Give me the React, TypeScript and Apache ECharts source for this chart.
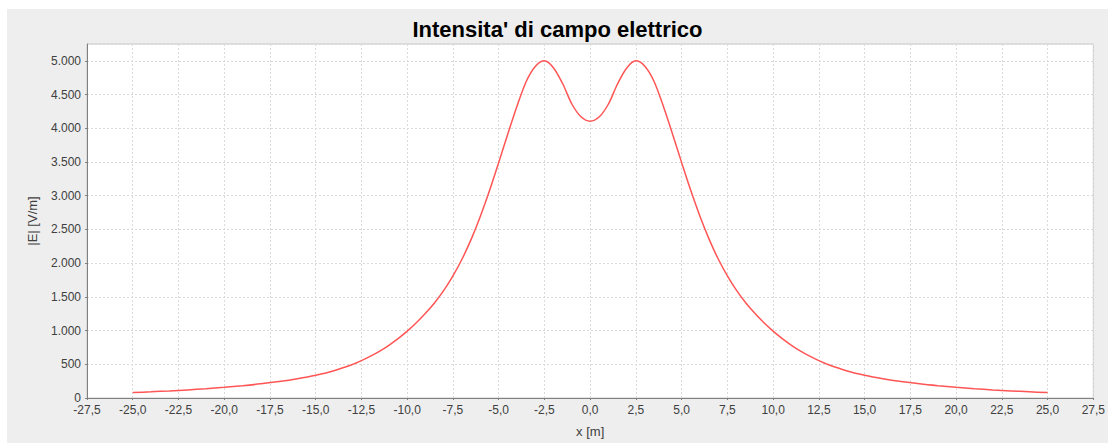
import React, { useEffect, useRef } from "react";
import * as echarts from "echarts";

const xValues = [
  -25, -24, -23, -22, -21, -20, -19, -18, -17, -16, -15, -14, -13, -12.5, -12, -11.5, -11, -10.5,
  -10, -9.5, -9, -8.5, -8, -7.5, -7, -6.5, -6, -5.5, -5, -4.5, -4, -3.5, -3, -2.5, -2, -1.5, -1, -0.5,
  0,
  0.5, 1, 1.5, 2, 2.5, 3, 3.5, 4, 4.5, 5, 5.5, 6, 6.5, 7, 7.5, 8, 8.5, 9, 9.5, 10,
  10.5, 11, 11.5, 12, 12.5, 13, 14, 15, 16, 17, 18, 19, 20, 21, 22, 23, 24, 25,
];

const eValues = [
  80, 92, 105, 120, 137, 158, 182, 210, 244, 286, 338, 405, 497, 555, 621, 696, 782, 880,
  991, 1116, 1256, 1413, 1596, 1811, 2061, 2356, 2696, 3076, 3491, 3916, 4326, 4691, 4916, 5000, 4895, 4660, 4360, 4170,
  4105,
  4170, 4360, 4660, 4895, 5000, 4916, 4691, 4326, 3916, 3491, 3076, 2696, 2356, 2061, 1811, 1596, 1413, 1256, 1116, 991,
  880, 782, 696, 621, 555, 497, 405, 338, 286, 244, 210, 182, 158, 137, 120, 105, 92, 80,
];

const titleText = "Intensita' di campo elettrico";
const xAxisName = "x [m]";
const yAxisName = "|E| [V/m]";

const fmtX = (v: number) => {
  const s = (Math.abs(v) < 1e-9 ? 0 : v).toFixed(1);
  return s.replace(".", ",");
};
const fmtY = (v: number) =>
  Math.round(v)
    .toString()
    .replace(/\B(?=(\d{3})+(?!\d))/g, ".");

export default function App() {
  const ref = useRef<HTMLDivElement>(null);
  useEffect(() => {
    if (!ref.current) return;
    const chart = echarts.init(ref.current, undefined, { renderer: "svg" });
    const labelFont = "Liberation Sans";
    chart.setOption({
      animation: false,
      backgroundColor: "#EEEEEE",
      title: {
        text: titleText,
        left: "center",
        top: 4,
        textStyle: {
          fontFamily: labelFont,
          fontWeight: "bold",
          fontSize: 22,
          color: "#000000",
        },
      },
      grid: {
        left: 80,
        top: 35,
        width: 1011,
        height: 356,
        show: true,
        backgroundColor: "#FFFFFF",
        borderColor: "#C8C8C8",
        borderWidth: 1,
      },
      xAxis: {
        type: "value",
        min: -27.5,
        max: 27.5,
        interval: 2.5,
        name: xAxisName,
        nameLocation: "middle",
        nameGap: 27,
        nameTextStyle: { fontFamily: labelFont, fontSize: 13, color: "#404040" },
        axisLine: { show: true, onZero: false, lineStyle: { color: "#808080", width: 1 } },
        axisTick: { show: true, length: 2, lineStyle: { color: "#808080" } },
        axisLabel: {
          formatter: fmtX,
          margin: 6,
          fontFamily: labelFont,
          fontSize: 12,
          color: "#404040",
        },
        splitLine: {
          show: true,
          lineStyle: { color: "#DADADA", width: 1, type: [2, 2] },
        },
      },
      yAxis: {
        type: "value",
        min: 0,
        max: 5250,
        interval: 500,
        name: yAxisName,
        nameLocation: "middle",
        nameGap: 48,
        nameTextStyle: { fontFamily: labelFont, fontSize: 13, color: "#404040" },
        axisLine: { show: true, onZero: false, lineStyle: { color: "#808080", width: 1 } },
        axisTick: { show: true, length: 2, lineStyle: { color: "#808080" } },
        axisLabel: {
          formatter: fmtY,
          showMaxLabel: false,
          margin: 6,
          fontFamily: labelFont,
          fontSize: 12,
          color: "#404040",
        },
        splitLine: {
          show: true,
          lineStyle: { color: "#DADADA", width: 1, type: [2, 2] },
        },
      },
      series: [
        {
          type: "line",
          data: xValues.map((x, i) => [x, eValues[i]]),
          smooth: 0.3,
          showSymbol: false,
          symbol: "none",
          lineStyle: { color: "#FF5555", width: 1.5 },
        },
      ],
    });
    return () => chart.dispose();
  }, []);
  return (
    <div
      ref={ref}
      style={{ position: "absolute", left: 7, top: 9, width: 1101, height: 434 }}
    />
  );
}
